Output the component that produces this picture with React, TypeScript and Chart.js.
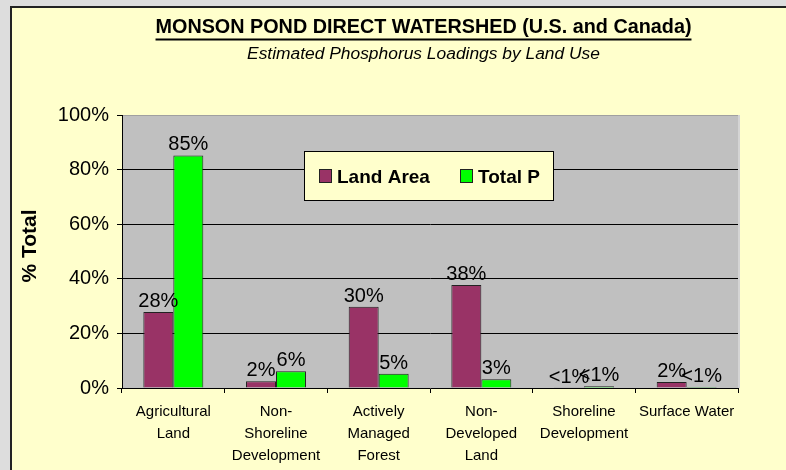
import React, { useEffect, useRef } from "react";
import { Chart, registerables } from "chart.js";

Chart.register(...registerables);

const FONT = "'Liberation Sans', Arial, Helvetica, sans-serif";

const titleText = "MONSON POND DIRECT WATERSHED (U.S. and Canada)";
const subtitleText = "Estimated Phosphorus Loadings by Land Use";
const yAxisTitle = "% Total";

const categories: string[][] = [
  ["Agricultural", "Land"],
  ["Non-", "Shoreline", "Development"],
  ["Actively", "Managed", "Forest"],
  ["Non-", "Developed", "Land"],
  ["Shoreline", "Development"],
  ["Surface Water"],
];

const seriesNames = ["Land Area", "Total P"];
const landArea = [27.8, 2.5, 29.8, 37.7, 0.1, 2.2];
const totalP = [85.2, 6.1, 5.2, 3.2, 0.6, 0.4];
const landAreaLabels = ["28%", "2%", "30%", "38%", "<1%", "2%"];
const totalPLabels = ["85%", "6%", "5%", "3%", "<1%", "<1%"];

const yTickValues = [0, 20, 40, 60, 80, 100];
const yTickLabels = ["0%", "20%", "40%", "60%", "80%", "100%"];

const colors = ["#993366", "#00FF00"];

export default function App() {
  const ref = useRef<HTMLCanvasElement | null>(null);

  useEffect(() => {
    document.body.style.margin = "0";
    const canvas = ref.current;
    if (!canvas) return;

    const labelsBySeries = [landAreaLabels, totalPLabels];

    const plotBg = {
      id: "plotBg",
      beforeDraw(chart: any) {
        const { ctx, chartArea: a } = chart;
        ctx.save();
        ctx.fillStyle = "#C0C0C0";
        ctx.fillRect(a.left, a.top, a.right - a.left, a.bottom - a.top);
        ctx.strokeStyle = "#A0A0A0";
        ctx.lineWidth = 1;
        ctx.beginPath();
        ctx.moveTo(a.left, a.top + 0.5);
        ctx.lineTo(a.right, a.top + 0.5);
        ctx.stroke();
        ctx.strokeStyle = "#D4D4D4";
        ctx.lineWidth = 2;
        ctx.beginPath();
        ctx.moveTo(a.right + 1, a.top);
        ctx.lineTo(a.right + 1, a.bottom);
        ctx.stroke();
        ctx.restore();
      },
    };

    const dataLabels = {
      id: "dataLabels",
      afterDatasetsDraw(chart: any) {
        const { ctx } = chart;
        ctx.save();
        ctx.font = `20px ${FONT}`;
        ctx.fillStyle = "#000";
        ctx.textAlign = "center";
        ctx.textBaseline = "alphabetic";
        chart.data.datasets.forEach((ds: any, di: number) => {
          const meta = chart.getDatasetMeta(di);
          meta.data.forEach((el: any, i: number) => {
            ctx.fillText(labelsBySeries[di][i], el.x, el.y - 5);
          });
        });
        ctx.restore();
      },
    };

    const decorations = {
      id: "decorations",
      afterDraw(chart: any) {
        const { ctx } = chart;
        ctx.save();
        // Title
        const cx = 423.5;
        ctx.fillStyle = "#000";
        ctx.textAlign = "center";
        ctx.textBaseline = "alphabetic";
        ctx.font = `bold 19.8px ${FONT}`;
        ctx.fillText(titleText, cx, 33);
        const tw = ctx.measureText(titleText).width;
        ctx.fillRect(cx - tw / 2, 38.5, tw, 2);
        // Subtitle
        ctx.font = `italic 17.4px ${FONT}`;
        ctx.fillText(subtitleText, cx, 59);
        // Y axis title
        ctx.save();
        ctx.translate(36, 246);
        ctx.rotate(-Math.PI / 2);
        ctx.font = `bold 21px ${FONT}`;
        ctx.textAlign = "center";
        ctx.fillText(yAxisTitle, 0, 0);
        ctx.restore();
        // Legend
        const bx = 304.5, by = 151.5, bw = 249, bh = 49;
        ctx.fillStyle = "#FFFFCC";
        ctx.fillRect(bx, by, bw, bh);
        ctx.strokeStyle = "#000";
        ctx.lineWidth = 1;
        ctx.strokeRect(bx, by, bw, bh);
        const itemX = [319, 460];
        chart.data.datasets.forEach((ds: any, di: number) => {
          const x = itemX[di];
          ctx.fillStyle = ds.backgroundColor;
          ctx.fillRect(x, 169, 13, 14);
          ctx.strokeStyle = "#222";
          ctx.strokeRect(x + 0.5, 169.5, 12, 13);
          ctx.fillStyle = "#000";
          ctx.font = `bold 19px ${FONT}`;
          ctx.textAlign = "left";
          ctx.fillText(ds.label, x + 18, 183);
        });
        ctx.restore();
      },
    };

    const chart = new Chart(canvas, {
      type: "bar",
      data: {
        labels: categories,
        datasets: [
          {
            label: seriesNames[0],
            data: landArea,
            backgroundColor: colors[0],
            borderColor: "#222",
            borderWidth: 1,
            barPercentage: 1,
            categoryPercentage: 0.584,
          },
          {
            label: seriesNames[1],
            data: totalP,
            backgroundColor: colors[1],
            borderColor: "#222",
            borderWidth: 1,
            barPercentage: 1,
            categoryPercentage: 0.584,
          },
        ],
      },
      options: {
        responsive: false,
        animation: false,
        layout: { padding: { left: 0, top: 115, right: 48, bottom: 0 } },
        plugins: {
          legend: { display: false },
          title: { display: false },
          tooltip: { enabled: false },
        },
        scales: {
          x: {
            grid: {
              drawOnChartArea: false,
              offset: true,
              tickLength: 5,
              tickColor: "#000",
              color: "#000",
            },
            border: { color: "#000", width: 1 },
            ticks: {
              color: "#000",
              font: { family: FONT, size: 15, lineHeight: 1.47 },
              padding: 8,
              maxRotation: 0,
              autoSkip: false,
            },
            afterFit: (s: any) => {
              s.height = 82;
            },
          },
          y: {
            min: 0,
            max: 100,
            afterBuildTicks: (s: any) => {
              s.ticks = yTickValues.map((v) => ({ value: v }));
            },
            ticks: {
              color: "#000",
              font: { family: FONT, size: 20 },
              padding: 8,
              callback: (v: any) => yTickLabels[yTickValues.indexOf(Number(v))],
            },
            grid: {
              color: (c: any) =>
                c.tick && c.tick.value > 0 && c.tick.value < 100 ? "#000" : "rgba(0,0,0,0)",
              tickColor: "#000",
              tickLength: 5,
            },
            border: { color: "#000", width: 1 },
            afterFit: (s: any) => {
              s.width = 122;
            },
          },
        },
      },
      plugins: [plotBg, dataLabels, decorations],
    });

    return () => chart.destroy();
  }, []);

  return (
    <div
      style={{
        position: "relative",
        width: 786,
        height: 470,
        background: "#DDDDDD",
        overflow: "hidden",
      }}
    >
      <div
        style={{
          position: "absolute",
          left: 10,
          top: 6,
          width: 820,
          height: 520,
          border: "2px solid #222",
          background: "#FFFFCC",
          boxSizing: "border-box",
        }}
      />
      <canvas
        ref={ref}
        width={786}
        height={470}
        style={{ position: "absolute", left: 0, top: 0, width: 786, height: 470 }}
      />
    </div>
  );
}
